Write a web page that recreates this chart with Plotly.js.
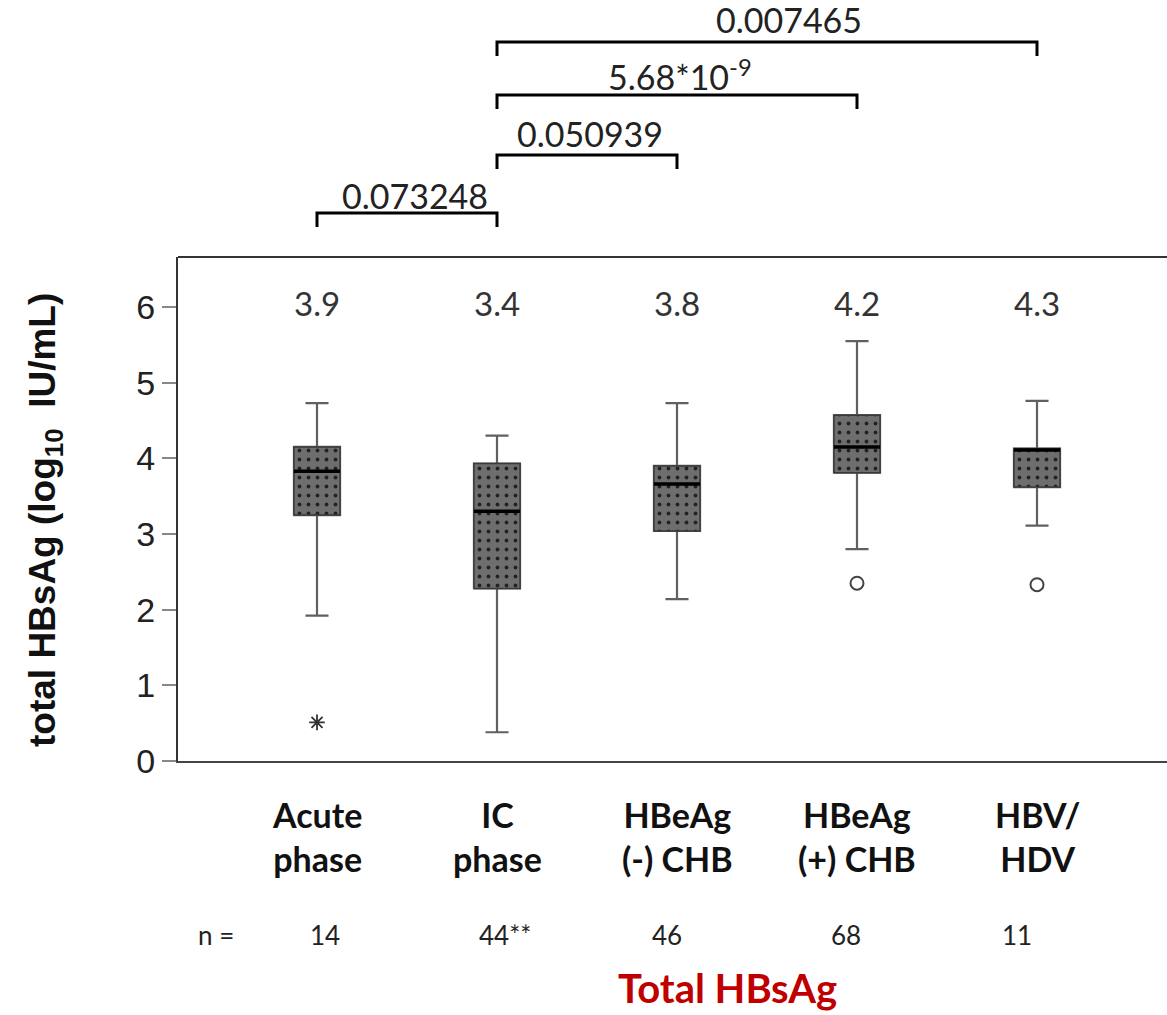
<!DOCTYPE html>
<html><head><meta charset="utf-8">
<script src="https://cdn.plot.ly/plotly-3.0.1.min.js"></script>
<style>html,body{margin:0;padding:0;background:#fff;}</style>
</head><body>
<div id="chart" style="width:1167px;height:1015px;"></div>
<script>
// ---------------- DATA ----------------
const categories = ["Acute<br>phase", "IC<br>phase", "HBeAg<br>(-) CHB", "HBeAg<br>(+) CHB", "HBV/<br>HDV"];
const lowerWhisker = [1.92, 0.38, 2.14, 2.80, 3.11];
const q1Vals = [3.25, 2.28, 3.04, 3.81, 3.62];
const medianVals = [3.83, 3.30, 3.66, 4.15, 4.11];
const q3Vals = [4.15, 3.93, 3.90, 4.57, 4.13];
const upperWhisker = [4.73, 4.30, 4.73, 5.55, 4.76];
const meanLabels = ["3.9", "3.4", "3.8", "4.2", "4.3"];
const nLabels = ["14", "44**", "46", "68", "11"];
const extremeGroup = [0];
const extremeVals = [0.51];
const outlierGroup = [3, 4];
const outlierVals = [2.35, 2.33];
const compFrom = [0, 1, 1, 1];
const compTo = [1, 2, 3, 4];
const compLabels = ["0.073248", "0.050939", "5.68*10<sup>-9</sup>", "0.007465"];
const yTicks = [0, 1, 2, 3, 4, 5, 6];

// ---------------- LAYOUT CONSTANTS ----------------
const W = 1167, H = 1015;
const plotL = 178, plotT = 257, plotB = 761;
const plotH = plotB - plotT, plotW = W - plotL;
const pxPerCat = 180, firstCenterPx = 317;
const boxW = 0.256;
const py = p => (plotB - p) / plotH;           // pixel y -> paper y
const pxX = p => (p - plotL) / plotW;          // pixel x -> paper x
const xIdx = categories.map((_, i) => i);
const xMin = (plotL - firstCenterPx) / pxPerCat;
const xMax = xMin + plotW / pxPerCat;
const textFont = 'Lato, Carlito, Calibri, sans-serif';
const nShift = [8, 8, -10, -11, -20];

const traces = [];
// whiskers / base box
traces.push({
  type: 'box', x: xIdx, q1: q1Vals, median: medianVals, q3: q3Vals,
  lowerfence: lowerWhisker, upperfence: upperWhisker,
  width: boxW, whiskerwidth: 0.5, boxpoints: false,
  fillcolor: '#6b6b6b', line: {color: '#606060', width: 2.2},
  hoverinfo: 'skip', showlegend: false
});
// patterned box bodies
xIdx.forEach(i => {
  traces.push({
    type: 'scatter', mode: 'lines',
    x: [i - boxW/2, i + boxW/2, i + boxW/2, i - boxW/2, i - boxW/2],
    y: [q1Vals[i], q1Vals[i], q3Vals[i], q3Vals[i], q1Vals[i]],
    fill: 'toself', fillcolor: '#6e6e6e',
    fillpattern: {shape: '.', fgcolor: '#222', bgcolor: '#6e6e6e', size: 9, solidity: 0.14},
    line: {color: '#3a3a3a', width: 1.5},
    hoverinfo: 'skip', showlegend: false
  });
});
// medians
const mx = [], my = [];
xIdx.forEach(i => { mx.push(i - boxW/2, i + boxW/2, null); my.push(medianVals[i], medianVals[i], null); });
traces.push({type: 'scatter', mode: 'lines', x: mx, y: my, line: {color: '#000', width: 3.5},
  hoverinfo: 'skip', showlegend: false});
// outliers
traces.push({type: 'scatter', mode: 'markers', x: outlierGroup, y: outlierVals,
  marker: {symbol: 'circle-open', size: 13, color: '#444', line: {width: 2, color: '#444'}},
  hoverinfo: 'skip', showlegend: false});
traces.push({type: 'scatter', mode: 'markers', x: extremeGroup, y: extremeVals,
  marker: {symbol: 'asterisk-open', size: 13, color: '#333', line: {width: 1.8, color: '#333'}},
  hoverinfo: 'skip', showlegend: false});

// annotations
const annotations = [];
xIdx.forEach(i => {
  annotations.push({x: i, y: 6.05, xref: 'x', yref: 'y', text: meanLabels[i], showarrow: false,
    font: {family: textFont, size: 33, color: '#333'}, yanchor: 'middle'});
  annotations.push({x: i, y: py(836), xref: 'x', yref: 'paper', text: '<b>' + categories[i] + '</b>', showarrow: false,
    font: {family: textFont, size: 34, color: '#111'}, yanchor: 'middle'});
  annotations.push({x: i, y: py(935), xref: 'x', yref: 'paper', xshift: nShift[i], text: nLabels[i], showarrow: false,
    font: {family: textFont, size: 26, color: '#222'}, yanchor: 'middle'});
});
annotations.push({x: pxX(216), y: py(935), xref: 'paper', yref: 'paper', text: 'n =', showarrow: false,
  font: {family: textFont, size: 26, color: '#222'}, xanchor: 'center', yanchor: 'middle'});
annotations.push({x: pxX(727), y: py(988), xref: 'paper', yref: 'paper', text: '<b>Total HBsAg</b>', showarrow: false,
  font: {family: textFont, size: 40, color: '#c00000'}, xanchor: 'center', yanchor: 'middle'});
annotations.push({x: pxX(45), y: py(520), xref: 'paper', yref: 'paper', textangle: -90,
  text: '<b>total HBsAg (log<sub>10</sub>  IU/mL)</b>', showarrow: false,
  font: {family: 'Liberation Sans, Arial, sans-serif', size: 37, color: '#111'}, xanchor: 'center', yanchor: 'middle'});

// brackets
const bracketPx = [213, 155, 95, 42];
const bracketDrop = 14;
const labelPx = [195, 133, 75, 20];
const labelShift = [8, 3, 3, 22];
const shapes = [];
compFrom.forEach((f, k) => {
  const t = compTo[k];
  const yl = py(bracketPx[k]), yd = py(bracketPx[k] + bracketDrop);
  shapes.push({type: 'path', xref: 'x', yref: 'paper',
    path: `M ${f} ${yd} L ${f} ${yl} L ${t} ${yl} L ${t} ${yd}`,
    line: {color: '#000', width: 3}});
  annotations.push({x: (f + t) / 2, y: py(labelPx[k]), xref: 'x', yref: 'paper', xshift: labelShift[k],
    text: compLabels[k], showarrow: false, yanchor: 'middle',
    font: {family: textFont, size: 34, color: '#222'}});
});
// top border of the plot frame
shapes.push({type: 'line', xref: 'paper', yref: 'paper', x0: 0, x1: 1, y0: 1, y1: 1,
  line: {color: '#333', width: 2}});

const layout = {
  width: W, height: H,
  margin: {l: plotL, r: 0, t: plotT, b: H - plotB, pad: 0},
  paper_bgcolor: '#fff', plot_bgcolor: '#fff',
  showlegend: false,
  xaxis: {range: [xMin, xMax], showticklabels: false, ticks: '', showgrid: false, zeroline: false,
    showline: true, linecolor: '#444', linewidth: 2, fixedrange: true},
  yaxis: {range: [0, (plotB - plotT) / 75.67], tickvals: yTicks, ticktext: yTicks.map(String),
    ticks: 'outside', ticklen: 14, tickwidth: 2, tickcolor: '#888',
    showgrid: false, zeroline: false, showline: true, linecolor: '#333', linewidth: 2,
    tickfont: {family: 'Liberation Sans, Arial, sans-serif', size: 34, color: '#222'}, fixedrange: true},
  annotations: annotations,
  shapes: shapes
};

Plotly.newPlot('chart', traces, layout, {displayModeBar: false, staticPlot: true});
</script>
</body></html>
